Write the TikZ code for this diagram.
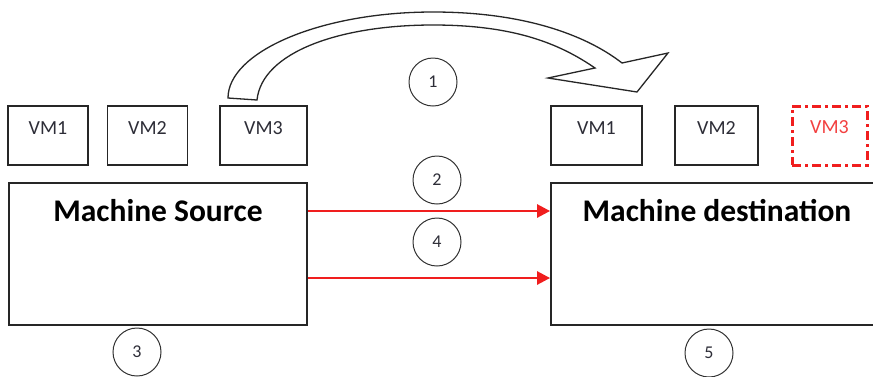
\documentclass[tikz,border=0pt]{standalone}
\usepackage{fontspec}
\setmainfont{Carlito}
\usetikzlibrary{arrows.meta}
\definecolor{vmred}{RGB}{240,30,30}
\definecolor{ink}{RGB}{45,45,55}
\begin{document}
\begin{tikzpicture}[x=1pt,y=-1pt,
  frame/.style={draw=black!85,line width=1.8pt,inner sep=0pt},
  vmbox/.style={frame,minimum width=80pt,minimum height=59pt},
  vmname/.style={anchor=base,inner sep=0pt,yshift=-29pt,text=ink,font=\fontsize{20}{24}\selectfont},
  hostbox/.style={frame,minimum width=298pt,minimum height=142pt},
  hostname/.style={anchor=base,inner sep=0pt,yshift=-39pt,font=\fontsize{31.5}{36}\selectfont\bfseries},
  stepmark/.style={circle,draw=black!80,line width=1pt,minimum size=48pt,inner sep=0pt,text=ink,font=\fontsize{18}{22}\selectfont},
  flow/.style={draw=vmred,line width=2.6pt,-{Triangle[length=13pt,width=13pt]}},
  ghost/.style={draw=vmred,line width=3pt,dash pattern=on 9pt off 4pt on 3pt off 4pt,inner sep=0pt,minimum width=75pt,minimum height=59pt}
]
\useasboundingbox (0,0) rectangle (873,376);
\clip (0,0) rectangle (873,376);

% source side
\node[vmbox,label={[vmname]north:VM1}] (sa) at (48,135.5) {};
\node[vmbox,label={[vmname]north:VM2}] (sb) at (147.5,135.5) {};
\node[vmbox,minimum width=87pt,label={[vmname]north:VM3}] (sc) at (263.5,135.5) {};
\node[hostbox,label={[hostname]north:Machine Source}] (src) at (158,254) {};

% destination side
\node[vmbox,minimum width=91pt,label={[vmname]north:VM1}] (da) at (596.5,135.5) {};
\node[vmbox,minimum width=83pt,label={[vmname]north:VM2}] (db) at (716.5,135.5) {};
\node[ghost,label={[vmname,text=vmred!85]north:VM3}] (dc) at (829.5,135.5) {};
\node[hostbox,minimum width=332pt,label={[hostname]north:Machine destination}] (dst) at (717,254) {};

% numbered steps
\node[stepmark] (n1) at (433,82) {1};
\node[stepmark] (n2) at (437,180) {2};
\node[stepmark] (n4) at (437,242) {4};
\node[stepmark] (n3) at (137,352) {3};
\node[stepmark] (n5) at (709,353) {5};

% transfer links between the hosts
\draw[flow] (src.east |- 0,211) -- (dst.west |- 0,211);
\draw[flow] (src.east |- 0,278) -- (dst.west |- 0,278);

% curved block arrow carrying VM3 across
\draw[draw=black!85,line width=1.3pt,fill=white,line join=miter]
  (228,98) .. controls (228,52) and (320,12) .. (433,12)
  .. controls (530,12) and (590,38) .. (622,63)
  -- (668,53) -- (637,92) -- (548,78) -- (595,68)
  .. controls (560,44) and (515,25) .. (433,25)
  .. controls (340,25) and (262,52) .. (257,100)
  -- cycle;
\end{tikzpicture}
\end{document}
